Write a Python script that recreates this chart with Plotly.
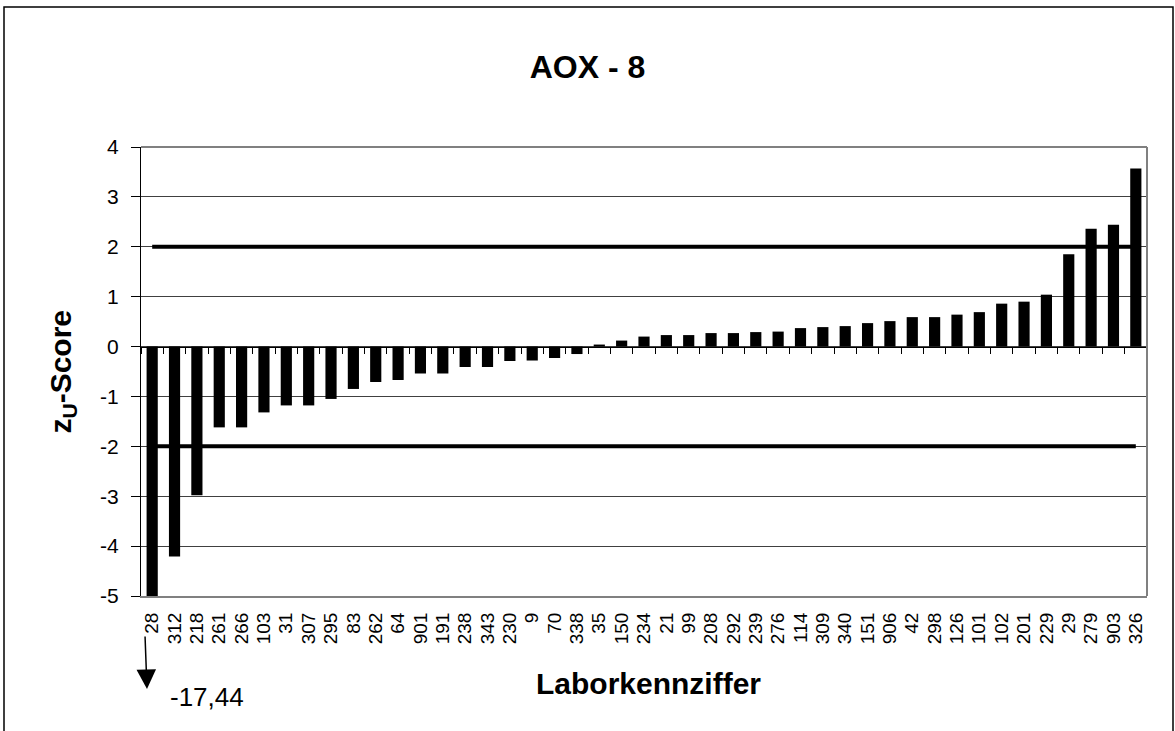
import plotly.graph_objects as go

labs = ["28", "312", "218", "261", "266", "103", "31", "307", "295", "83", "262", "64",
        "901", "191", "238", "343", "230", "9", "70", "338", "35", "150", "234", "21",
        "99", "208", "292", "239", "276", "114", "309", "340", "151", "906", "42", "298",
        "126", "101", "102", "201", "229", "29", "279", "903", "326"]
zscores = [-17.44, -4.21, -2.98, -1.62, -1.62, -1.32, -1.18, -1.18, -1.05, -0.85, -0.71, -0.67,
           -0.54, -0.54, -0.41, -0.41, -0.29, -0.28, -0.23, -0.15, 0.04, 0.12, 0.20, 0.23,
           0.23, 0.27, 0.27, 0.29, 0.30, 0.37, 0.39, 0.41, 0.47, 0.51, 0.59, 0.59,
           0.64, 0.69, 0.86, 0.90, 1.04, 1.85, 2.36, 2.44, 3.57]
upper_limit = 2
lower_limit = -2
y_ticks = [-5, -4, -3, -2, -1, 0, 1, 2, 3, 4]

FONT = "Liberation Sans, Arial, sans-serif"

# plot area in pixels
W, H = 1175, 731
L, R, T, B = 141, 1147, 147, 596


def px_x(px):
    return (px - L) / (R - L)


def px_y(py):
    return (B - py) / (B - T)


fig = go.Figure()
fig.add_trace(go.Bar(x=labs, y=zscores, width=0.5, marker=dict(color="black", line=dict(width=0)),
                     showlegend=False, hoverinfo="x+y"))
fig.add_trace(go.Scatter(x=labs, y=[upper_limit] * len(labs), mode="lines",
                         line=dict(color="black", width=4), showlegend=False))
fig.add_trace(go.Scatter(x=labs, y=[lower_limit] * len(labs), mode="lines",
                         line=dict(color="black", width=4), showlegend=False))
# invisible trace to draw the category axis at y = 0
fig.add_trace(go.Scatter(x=labs, y=[0] * len(labs), xaxis="x2", mode="markers",
                         marker=dict(opacity=0), showlegend=False, hoverinfo="skip"))

ymin, ymax = y_ticks[0], y_ticks[-1]
zero_pos = (0 - ymin) / (ymax - ymin)

fig.update_layout(
    width=W, height=H,
    margin=dict(l=L, r=W - R, t=T, b=H - B),
    paper_bgcolor="white", plot_bgcolor="white",
    font=dict(family=FONT, color="black"),
    bargap=0.5,
    title=dict(text="<b>AOX - 8</b>", x=0.5, xref="container", xanchor="center",
               y=1 - 67 / H, yanchor="middle", font=dict(size=32, family=FONT)),
    xaxis=dict(type="category", categoryorder="array", categoryarray=labs,
               range=[-0.5, len(labs) - 0.5],
               tickmode="array", tickvals=labs, ticktext=labs,
               tickangle=-90, tickfont=dict(size=19, family=FONT), ticklabelstandoff=7,
               showline=True, linecolor="#808080", linewidth=2, mirror=False,
               ticks="", showgrid=False, zeroline=False),
    xaxis2=dict(type="category", categoryorder="array", categoryarray=labs,
                matches="x", overlaying="x", anchor="free", position=zero_pos,
                tickmode="array", tickvals=labs,
                showticklabels=False, ticks="outside", ticklen=6, tickcolor="black",
                tickson="boundaries", showline=True, linecolor="black", linewidth=1,
                showgrid=False, zeroline=False),
    yaxis=dict(range=[ymin, ymax], tickvals=y_ticks, ticktext=[str(v) for v in y_ticks],
               tickfont=dict(size=21, family=FONT), ticks="outside", ticklen=9,
               ticklabelstandoff=8,
               tickcolor="black", showline=True, linecolor="black", linewidth=1,
               showgrid=True, gridcolor="#404040", gridwidth=1, zeroline=False),
)

# plot-area border (top and right)
fig.add_shape(type="line", xref="paper", yref="paper", x0=0, x1=1, y0=1, y1=1,
              line=dict(color="#808080", width=2))
fig.add_shape(type="line", xref="paper", yref="paper", x0=1, x1=1, y0=0, y1=1,
              line=dict(color="#808080", width=2))
# outer chart frame
fig.add_shape(type="rect", xref="paper", yref="paper",
              x0=px_x(4), x1=px_x(1173), y0=px_y(740), y1=px_y(7),
              line=dict(color="black", width=1.5), fillcolor="rgba(0,0,0,0)", layer="above")

# axis titles
fig.add_annotation(text="<b>z<sub>U</sub>-Score</b>", textangle=-90, xref="paper", yref="paper",
                   x=px_x(62), y=0.5, xanchor="center", yanchor="middle", showarrow=False,
                   font=dict(size=30, family=FONT))
fig.add_annotation(text="<b>Laborkennziffer</b>", xref="paper", yref="paper",
                   x=px_x(648), y=px_y(683), xanchor="center", yanchor="middle", showarrow=False,
                   font=dict(size=30, family=FONT))

# out-of-range marker for the first lab (value below the axis range)
fig.add_annotation(x=px_x(147), y=px_y(689), xref="paper", yref="paper", ax=-2, ay=-54,
                   showarrow=True, arrowhead=2, arrowsize=2.6, arrowwidth=1.5,
                   arrowcolor="black", text="")
fig.add_annotation(text=f"{zscores[0]:.2f}".replace(".", ","), xref="paper", yref="paper",
                   x=px_x(168), y=px_y(697), xanchor="left", yanchor="middle", showarrow=False,
                   font=dict(size=26, family=FONT))

fig.write_html("out.html", config={"displayModeBar": False},
               post_script="document.body.style.margin='0';document.body.style.overflow='hidden';")
